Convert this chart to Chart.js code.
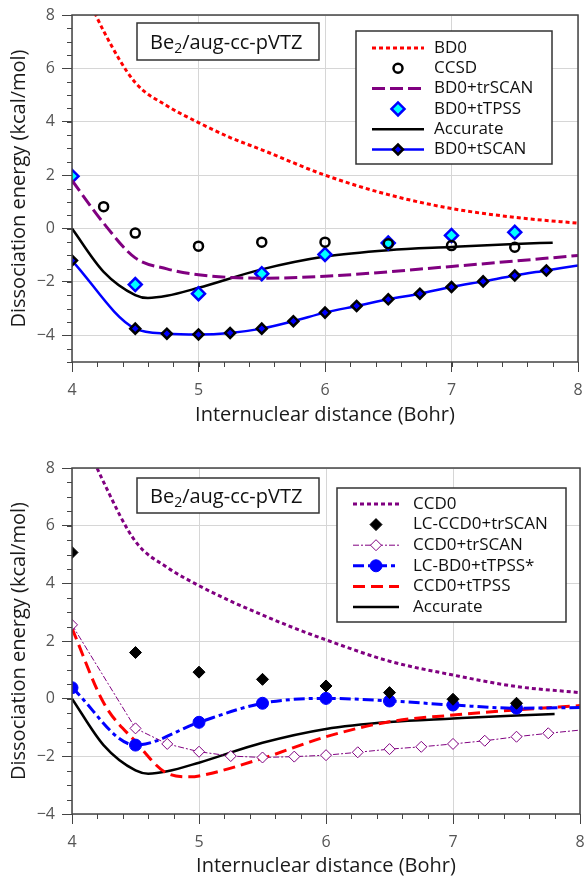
<!DOCTYPE html>
<html>
<head>
<meta charset="utf-8">
<script src="https://cdn.jsdelivr.net/npm/chart.js@4.4.1/dist/chart.umd.min.js"></script>
<style>
  html, body { margin: 0; padding: 0; background: #fff; }
  .panel { position: absolute; left: 0; width: 587px; height: 439px; }
  #top { top: 0; }
  #bottom { top: 439px; }
</style>
</head>
<body>
<div class="panel" id="top"><canvas id="chartTop" width="587" height="439"></canvas></div>
<div class="panel" id="bottom"><canvas id="chartBottom" width="587" height="439"></canvas></div>
<script>
// ---- data (x in Bohr, y in kcal/mol) ----
const xTickValues = [4, 5, 6, 7, 8];
const yTickValues = [-4, -2, 0, 2, 4, 6, 8];

// top panel
const bd0X = [4, 4.25, 4.5, 4.75, 5, 5.25, 5.5, 6, 6.5, 7, 7.5, 8];
const bd0Y = [10.0, 7.4, 5.47, 4.6, 3.97, 3.41, 2.95, 2.0, 1.27, 0.75, 0.42, 0.2];
const ccsdX = [4.25, 4.5, 5, 5.5, 6, 6.5, 7, 7.5];
const ccsdY = [0.82, -0.17, -0.66, -0.51, -0.51, -0.57, -0.64, -0.7];
const bd0TrScanX = [4, 4.25, 4.5, 4.75, 5, 5.5, 6, 7, 8];
const bd0TrScanY = [1.8, 0.2, -1.1, -1.51, -1.73, -1.86, -1.79, -1.42, -1.01];
const bd0TtpssX = [4, 4.5, 5, 5.5, 6, 6.5, 7, 7.5];
const bd0TtpssY = [1.96, -2.1, -2.44, -1.69, -0.97, -0.54, -0.26, -0.14];
const accurateX = [4, 4.25, 4.5, 4.6, 4.75, 5, 5.5, 6, 6.5, 7, 7.5, 7.8];
const accurateY = [0, -1.62, -2.49, -2.6, -2.52, -2.22, -1.53, -1.05, -0.81, -0.69, -0.58, -0.53];
const bd0TscanX = [4, 4.5, 4.75, 5, 5.25, 5.5, 5.75, 6, 6.25, 6.5, 6.75, 7, 7.25, 7.5, 7.75, 8];
const bd0TscanY = [-1.2, -3.75, -3.94, -3.97, -3.91, -3.75, -3.47, -3.15, -2.9, -2.65, -2.44, -2.19, -1.98, -1.76, -1.57, -1.38];

// bottom panel
const ccd0X = [4, 4.25, 4.5, 4.75, 5, 5.25, 5.5, 5.75, 6, 6.5, 7, 7.5, 8];
const ccd0Y = [10.0, 7.5, 5.45, 4.55, 3.92, 3.38, 2.9, 2.45, 2.04, 1.3, 0.82, 0.42, 0.21];
const lcCcd0TrScanX = [4, 4.5, 5, 5.5, 6, 6.5, 7, 7.5];
const lcCcd0TrScanY = [5.07, 1.6, 0.92, 0.67, 0.44, 0.21, -0.02, -0.16];
const ccd0TrScanX = [4, 4.5, 4.75, 5, 5.25, 5.5, 5.75, 6, 6.25, 6.5, 6.75, 7, 7.25, 7.5, 7.75, 8];
const ccd0TrScanY = [2.56, -1.03, -1.57, -1.84, -1.99, -2.04, -2.01, -1.96, -1.86, -1.75, -1.67, -1.57, -1.46, -1.32, -1.2, -1.09];
const lcBd0TtpssX = [4, 4.5, 5, 5.5, 6, 6.5, 7, 7.5, 8];
const lcBd0TtpssY = [0.38, -1.61, -0.82, -0.16, 0.01, -0.08, -0.22, -0.33, -0.31];
const ccd0TtpssX = [4, 4.25, 4.5, 4.75, 4.93, 5, 5.5, 6, 6.5, 7, 7.5, 8];
const ccd0TtpssY = [2.44, -0.15, -1.49, -2.59, -2.71, -2.68, -2.07, -1.32, -0.8, -0.57, -0.39, -0.24];

const FONT = "'Open Sans', 'Noto Sans', sans-serif";
const PURPLE = '#800080';

const pts = (xs, ys) => xs.map((x, i) => ({ x, y: ys[i] }));
// markers on every point except the trailing ones past `count`
const markersUpTo = (r, count) => ctx => (ctx.dataIndex < count ? r : 0);

function drawMarker(ctx, style, r, x, y) {
  ctx.beginPath();
  if (style === 'circle') {
    ctx.arc(x, y, r, 0, Math.PI * 2);
  } else {
    ctx.moveTo(x - r, y);
    ctx.lineTo(x, y - r);
    ctx.lineTo(x + r, y);
    ctx.lineTo(x, y + r);
    ctx.closePath();
  }
}

// boxed legend with line sample + marker
const boxLegend = {
  id: 'boxLegend',
  afterDraw(chart, args, o) {
    const { ctx } = chart;
    ctx.save();
    ctx.fillStyle = '#fff';
    ctx.fillRect(o.x, o.y, o.w, o.h);
    ctx.strokeStyle = '#333';
    ctx.lineWidth = 1.5;
    ctx.strokeRect(o.x, o.y, o.w, o.h);
    chart.data.datasets.forEach((ds, i) => {
      const ry = o.y + o.firstRow + i * o.rowH;
      const x1 = o.x + o.sample[0], x2 = o.x + o.sample[1];
      if (ds.showLine) {
        ctx.beginPath();
        ctx.setLineDash(ds.borderDash || []);
        ctx.strokeStyle = ds.borderColor;
        ctx.lineWidth = ds.borderWidth;
        ctx.moveTo(x1, ry);
        ctx.lineTo(x2, ry);
        ctx.stroke();
        ctx.setLineDash([]);
      }
      if (ds.markerRadius) {
        drawMarker(ctx, ds.pointStyle, ds.markerRadius, (x1 + x2) / 2, ry);
        ctx.fillStyle = ds.pointBackgroundColor;
        ctx.fill();
        ctx.strokeStyle = ds.pointBorderColor;
        ctx.lineWidth = ds.pointBorderWidth;
        ctx.stroke();
      }
      ctx.fillStyle = '#111';
      ctx.font = `17px ${FONT}`;
      ctx.textBaseline = 'middle';
      ctx.textAlign = 'left';
      ctx.fillText(ds.label, o.x + o.textX, ry);
    });
    ctx.restore();
  }
};

// "Be2/aug-cc-pVTZ" box
const insetLabel = {
  id: 'insetLabel',
  afterDraw(chart, args, o) {
    const { ctx } = chart;
    ctx.save();
    ctx.fillStyle = '#fff';
    ctx.fillRect(o.x, o.y, o.w, o.h);
    ctx.strokeStyle = '#333';
    ctx.lineWidth = 1.5;
    ctx.strokeRect(o.x, o.y, o.w, o.h);
    ctx.fillStyle = '#111';
    ctx.textBaseline = 'alphabetic';
    const base = o.y + o.h / 2 + 7;
    let tx = o.x + 13;
    ctx.font = `20px ${FONT}`;
    ctx.fillText('Be', tx, base);
    tx += ctx.measureText('Be').width;
    ctx.font = `14px ${FONT}`;
    ctx.fillText('2', tx, base + 4);
    tx += ctx.measureText('2').width;
    ctx.font = `20px ${FONT}`;
    ctx.fillText('/aug-cc-pVTZ', tx, base);
    ctx.restore();
  }
};

// minor ticks and plot frame
const axisDecor = {
  id: 'axisDecor',
  afterDraw(chart) {
    const { ctx, chartArea: a, scales: { x, y } } = chart;
    ctx.save();
    ctx.strokeStyle = '#444';
    ctx.lineWidth = 1;
    ctx.beginPath();
    for (let v = x.min; v <= x.max + 1e-9; v += 0.2) {
      const px = Math.round(x.getPixelForValue(v)) + 0.5;
      ctx.moveTo(px, a.bottom);
      ctx.lineTo(px, a.bottom + 5);
    }
    for (let v = y.min; v <= y.max + 1e-9; v += 0.5) {
      const py = Math.round(y.getPixelForValue(v)) + 0.5;
      ctx.moveTo(a.left, py);
      ctx.lineTo(a.left - 5, py);
    }
    ctx.stroke();
    ctx.lineWidth = 1.5;
    ctx.strokeStyle = '#444';
    ctx.strokeRect(a.left, a.top, a.right - a.left, a.bottom - a.top);
    ctx.restore();
  }
};

function makeOptions(cfg) {
  return {
    responsive: false,
    animation: false,
    events: [],
    layout: { padding: { top: cfg.padTop, right: 0, left: 0, bottom: 0 } },
    elements: { line: { cubicInterpolationMode: 'monotone' } },
    plugins: {
      legend: { display: false },
      tooltip: { enabled: false },
      boxLegend: cfg.legend,
      insetLabel: cfg.inset
    },
    scales: {
      x: {
        type: 'linear',
        min: 4,
        max: 8,
        afterBuildTicks: s => { s.ticks = xTickValues.map(v => ({ value: v })); },
        afterFit: s => {
          s.height = cfg.xHeight;
          s.paddingLeft = 0;
          s.paddingRight = 0;
        },
        grid: { color: '#d6d6d6', lineWidth: 1, tickLength: 10, tickColor: '#444' },
        border: { display: false },
        ticks: { font: { family: FONT, size: 16 }, color: '#555', padding: 9, maxRotation: 0 },
        title: {
          display: true,
          text: 'Internuclear distance (Bohr)',
          font: { family: FONT, size: 20 },
          color: '#1a1a1a',
          padding: { top: 0, bottom: cfg.xTitlePad }
        }
      },
      y: {
        type: 'linear',
        min: cfg.yMin,
        max: 8,
        afterBuildTicks: s => { s.ticks = yTickValues.map(v => ({ value: v })); },
        afterFit: s => {
          s.width = 72;
          s.paddingTop = 0;
          s.paddingBottom = 0;
        },
        grid: { color: '#d6d6d6', lineWidth: 1, tickLength: 10, tickColor: '#444' },
        border: { display: false },
        ticks: {
          font: { family: FONT, size: 16 },
          color: '#555',
          padding: 7,
          callback: v => (v < 0 ? '\u2212' + Math.abs(v) : String(v))
        },
        title: {
          display: true,
          text: 'Dissociation energy (kcal/mol)',
          font: { family: FONT, size: 20 },
          color: '#1a1a1a',
          padding: { top: 7, bottom: 0 }
        }
      }
    }
  };
}

new Chart(document.getElementById('chartTop'), {
  type: 'scatter',
  plugins: [axisDecor, insetLabel, boxLegend],
  data: {
    datasets: [
      {
        label: 'BD0', data: pts(bd0X, bd0Y), showLine: true,
        borderColor: '#ff0000', borderWidth: 3, borderDash: [4, 3], pointRadius: 0
      },
      {
        label: 'CCSD', data: pts(ccsdX, ccsdY), showLine: false,
        pointStyle: 'circle', markerRadius: 4.5, pointRadius: 4.5,
        pointBackgroundColor: 'rgba(255,255,255,0)', pointBorderColor: '#000', pointBorderWidth: 2.5
      },
      {
        label: 'BD0+trSCAN', data: pts(bd0TrScanX, bd0TrScanY), showLine: true,
        borderColor: PURPLE, borderWidth: 3, borderDash: [13, 5], pointRadius: 0
      },
      {
        label: 'BD0+tTPSS', data: pts(bd0TtpssX, bd0TtpssY), showLine: false,
        pointStyle: 'rectRot', markerRadius: 6.5, pointRadius: 6.5,
        pointBackgroundColor: '#00ffff', pointBorderColor: '#0000ff', pointBorderWidth: 2.5
      },
      {
        label: 'Accurate', data: pts(accurateX, accurateY), showLine: true,
        borderColor: '#000', borderWidth: 2.5, pointRadius: 0
      },
      {
        label: 'BD0+tSCAN', data: pts(bd0TscanX, bd0TscanY), showLine: true,
        borderColor: '#0000ff', borderWidth: 2.5,
        pointStyle: 'rectRot', markerRadius: 5, pointRadius: markersUpTo(5, bd0TscanX.length - 1),
        pointBackgroundColor: '#0000ff', pointBorderColor: '#000', pointBorderWidth: 2.5
      }
    ]
  },
  options: makeOptions({
    padTop: 15, xHeight: 77, xTitlePad: 12, yMin: -5,
    legend: { x: 356, y: 31, w: 196, h: 133, firstRow: 17, rowH: 20.3, sample: [16, 68], textX: 78 },
    inset: { x: 137, y: 23, w: 182, h: 37 }
  })
});

new Chart(document.getElementById('chartBottom'), {
  type: 'scatter',
  plugins: [axisDecor, insetLabel, boxLegend],
  data: {
    datasets: [
      {
        label: 'CCD0', data: pts(ccd0X, ccd0Y), showLine: true,
        borderColor: PURPLE, borderWidth: 3, borderDash: [4, 3], pointRadius: 0
      },
      {
        label: 'LC-CCD0+trSCAN', data: pts(lcCcd0TrScanX, lcCcd0TrScanY), showLine: false,
        pointStyle: 'rectRot', markerRadius: 6, pointRadius: 6,
        pointBackgroundColor: '#000', pointBorderColor: '#000', pointBorderWidth: 1
      },
      {
        label: 'CCD0+trSCAN', data: pts(ccd0TrScanX, ccd0TrScanY), showLine: true,
        borderColor: PURPLE, borderWidth: 1, borderDash: [6, 2, 2, 2], tension: 0, cubicInterpolationMode: 'default',
        pointStyle: 'rectRot', markerRadius: 5.5, pointRadius: markersUpTo(5.5, ccd0TrScanX.length - 1),
        pointBackgroundColor: '#fff', pointBorderColor: PURPLE, pointBorderWidth: 1
      },
      {
        label: 'LC-BD0+tTPSS*', data: pts(lcBd0TtpssX, lcBd0TtpssY), showLine: true,
        borderColor: '#0000ff', borderWidth: 3, borderDash: [11, 4, 4, 4],
        pointStyle: 'circle', markerRadius: 6, pointRadius: markersUpTo(6, lcBd0TtpssX.length - 1),
        pointBackgroundColor: '#0000ff', pointBorderColor: '#0000ff', pointBorderWidth: 1
      },
      {
        label: 'CCD0+tTPSS', data: pts(ccd0TtpssX, ccd0TtpssY), showLine: true,
        borderColor: '#ff0000', borderWidth: 3, borderDash: [12, 6], pointRadius: 0
      },
      {
        label: 'Accurate', data: pts(accurateX, accurateY), showLine: true,
        borderColor: '#000', borderWidth: 2.5, pointRadius: 0
      }
    ]
  },
  options: makeOptions({
    padTop: 29, xHeight: 64, xTitlePad: 0, yMin: -4,
    legend: { x: 337, y: 49, w: 229, h: 134, firstRow: 16, rowH: 20.6, sample: [16, 62], textX: 76 },
    inset: { x: 137, y: 39, w: 182, h: 35 }
  })
});
</script>
</body>
</html>
